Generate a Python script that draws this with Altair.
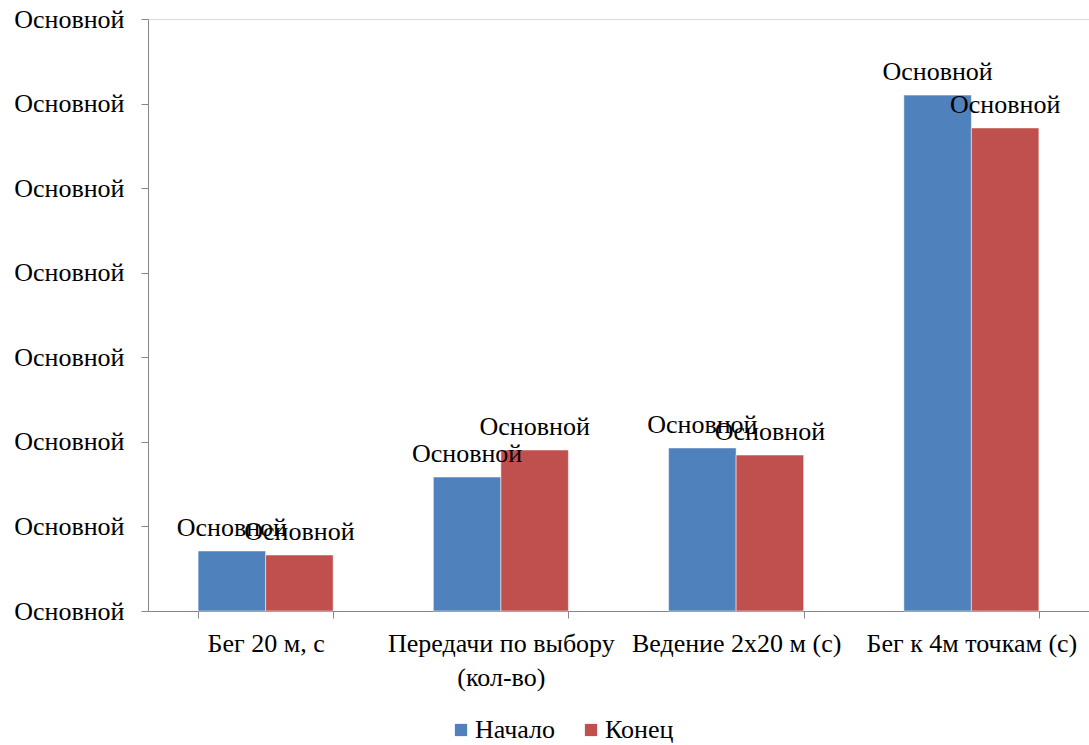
import altair as alt
import pandas as pd

categories = ["Бег 20 м, с", "Передачи по выбору (кол-во)", "Ведение 2x20 м (с)", "Бег к 4м точкам (с)"]
series = ["Начало", "Конец"]
start_values = [3.55, 7.92, 9.64, 30.5]
end_values = [3.31, 9.52, 9.22, 28.56]
y_ticks = [0, 5, 10, 15, 20, 25, 30, 35]
label_text = "Основной"

rows = []
for c, a, b in zip(categories, start_values, end_values):
    rows.append({"cat": c, "series": series[0], "value": a, "lab": label_text})
    rows.append({"cat": c, "series": series[1], "value": b, "lab": label_text})
df = pd.DataFrame(rows)

FONT = "Times New Roman, Liberation Serif, serif"
FS = 26

x = alt.X("cat:N", sort=categories, title=None,
          scale=alt.Scale(paddingInner=0.426, paddingOuter=0.213),
          axis=alt.Axis(labelAngle=0, tickBand="extent", tickSize=7, labelPadding=12,
                        domainColor="#868686", tickColor="#868686", labelColor="#000000",
                        labelFont=FONT, labelFontSize=FS, labelLineHeight=34, labelLimit=0,
                        labelExpr="datum.label == 'Передачи по выбору (кол-во)' ? ['Передачи по выбору', '(кол-во)'] : datum.label"))
y = alt.Y("value:Q", title=None,
          scale=alt.Scale(domain=[0, 35], nice=False),
          axis=alt.Axis(values=y_ticks, grid=False, tickSize=7, labelPadding=17,
                        domainColor="#868686", tickColor="#868686", labelColor="#000000",
                        labelFont=FONT, labelFontSize=FS, labelLimit=0, labelExpr="'Основной'"))
xo = alt.XOffset("series:N", sort=series)
color = alt.Color("series:N", sort=series,
                  scale=alt.Scale(domain=series, range=["#4F81BD", "#C0504D"]),
                  legend=alt.Legend(title=None, orient="none", direction="horizontal",
                                    legendX=300, legendY=698, symbolType="square",
                                    symbolSize=150, symbolStrokeWidth=0, labelFont=FONT,
                                    labelFontSize=FS, labelColor="#000000", columnPadding=22,
                                    labelOffset=1, labelLimit=0))

base = alt.Chart(df)
bars = base.mark_bar(stroke="white", strokeWidth=0.5).encode(x=x, xOffset=xo, y=y, color=color)
texts = base.mark_text(font=FONT, fontSize=FS, baseline="alphabetic", dy=-15, color="#000000").encode(
    x=x, xOffset=xo, y=y, text="lab:N")

chart = (bars + texts).properties(
    width=941, height=592,
    autosize=alt.AutoSizeParams(type="none"),
    padding={"left": 148, "top": 19, "right": 0, "bottom": 134},
).configure_view(stroke=None).configure(background="white")

chart.save("out.html", embed_options={"renderer": "svg", "actions": False})
